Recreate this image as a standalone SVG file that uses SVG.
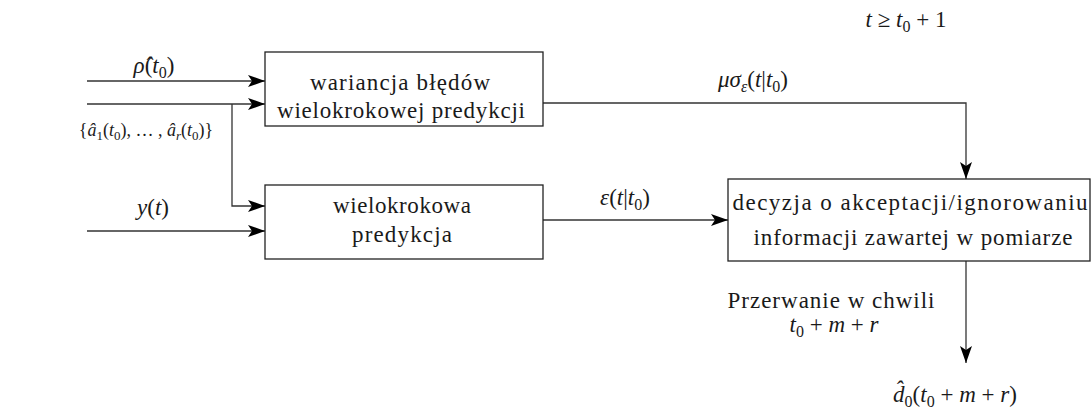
<svg xmlns="http://www.w3.org/2000/svg" width="1092" height="412" viewBox="0 0 1092 412">
<style>
text{font-family:"Liberation Serif","Times New Roman",Times,"Noto Serif","DejaVu Serif",serif;font-size:23px;fill:#1a1a1a}
.i{font-style:italic}
.s{font-size:16px}
.box{fill:#fff;stroke:#222;stroke-width:1.3}
.ln{fill:none;stroke:#333;stroke-width:1.3}
</style>
<defs>
<marker id="ah" markerUnits="userSpaceOnUse" viewBox="0 0 17 12" refX="17" refY="6" markerWidth="17" markerHeight="12" orient="auto">
<path d="M0,0 L17,6 L0,12 L4,6 Z" fill="#000"/>
</marker>
</defs>
<rect width="1092" height="412" fill="#fff"/>
<g id="connectors">
<line class="ln" x1="87" y1="81" x2="265" y2="81" marker-end="url(#ah)"/>
<line class="ln" x1="87" y1="104" x2="265" y2="104" marker-end="url(#ah)"/>
<polyline class="ln" points="232,104 232,206 265,206" marker-end="url(#ah)"/>
<line class="ln" x1="87" y1="231" x2="265" y2="231" marker-end="url(#ah)"/>
<polyline class="ln" points="543,103 966,103 966,179" marker-end="url(#ah)"/>
<line class="ln" x1="543" y1="220" x2="728" y2="220" marker-end="url(#ah)"/>
<line class="ln" x1="966" y1="261" x2="966" y2="363" marker-end="url(#ah)"/>
</g>
<g id="labels">
<text x="154" y="73" text-anchor="middle"><tspan class="i">ρ̂</tspan>(<tspan class="i">t</tspan><tspan class="s" dy="5">0</tspan><tspan dy="-5">)</tspan></text>
<text x="146" y="136" text-anchor="middle" style="font-size:18px">{<tspan class="i">â</tspan><tspan style="font-size:13px" dy="4">1</tspan><tspan dy="-4">(</tspan><tspan class="i">t</tspan><tspan style="font-size:13px" dy="4">0</tspan><tspan dy="-4">), … , </tspan><tspan class="i">â</tspan><tspan class="i" style="font-size:13px" dy="4">r</tspan><tspan dy="-4">(</tspan><tspan class="i">t</tspan><tspan style="font-size:13px" dy="4">0</tspan><tspan dy="-4">)}</tspan></text>
<text x="153" y="215" text-anchor="middle"><tspan class="i">y</tspan>(<tspan class="i">t</tspan>)</text>
<text x="753" y="87" text-anchor="middle"><tspan class="i">μσ</tspan><tspan class="s i" dy="5">ε</tspan><tspan dy="-5">(</tspan><tspan class="i">t</tspan>|<tspan class="i">t</tspan><tspan class="s" dy="5">0</tspan><tspan dy="-5">)</tspan></text>
<text x="625" y="205" text-anchor="middle"><tspan class="i">ε</tspan>(<tspan class="i">t</tspan>|<tspan class="i">t</tspan><tspan class="s" dy="5">0</tspan><tspan dy="-5">)</tspan></text>
<text x="906" y="27" text-anchor="middle"><tspan class="i">t</tspan> ≥ <tspan class="i">t</tspan><tspan class="s" dy="5">0</tspan><tspan dy="-5"> + 1</tspan></text>
<text x="831" y="308" text-anchor="middle" textLength="207" lengthAdjust="spacing">Przerwanie w chwili</text>
<text x="834" y="332" text-anchor="middle"><tspan class="i">t</tspan><tspan class="s" dy="5">0</tspan><tspan dy="-5"> + </tspan><tspan class="i">m</tspan> + <tspan class="i">r</tspan></text>
<text x="955" y="402" text-anchor="middle"><tspan class="i">d̂</tspan><tspan class="s" dy="5">0</tspan><tspan dy="-5">(</tspan><tspan class="i">t</tspan><tspan class="s" dy="5">0</tspan><tspan dy="-5"> + </tspan><tspan class="i">m</tspan> + <tspan class="i">r</tspan>)</text>
</g>
<g id="node-wariancja">
<rect class="box" x="265" y="52" width="278" height="74"/>
<text x="400" y="90" text-anchor="middle" textLength="180" lengthAdjust="spacing">wariancja błędów</text>
<text x="401" y="118" text-anchor="middle" textLength="248" lengthAdjust="spacing">wielokrokowej predykcji</text>
</g>
<g id="node-predykcja">
<rect class="box" x="265" y="185" width="278" height="74"/>
<text x="402" y="213" text-anchor="middle" textLength="138" lengthAdjust="spacing">wielokrokowa</text>
<text x="402" y="242" text-anchor="middle" textLength="100" lengthAdjust="spacing">predykcja</text>
</g>
<g id="node-decyzja">
<rect class="box" x="728" y="179" width="362" height="82"/>
<text x="910" y="210" text-anchor="middle" textLength="355" lengthAdjust="spacing">decyzja o akceptacji/ignorowaniu</text>
<text x="913" y="245" text-anchor="middle" textLength="319" lengthAdjust="spacing">informacji zawartej w pomiarze</text>
</g>
</svg>
